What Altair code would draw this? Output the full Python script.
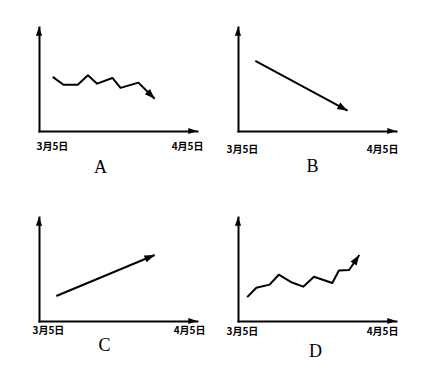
import math
import altair as alt
import pandas as pd

# ---- data -------------------------------------------------------------
tick_days = [0, 31]                      # 3月5日 .. 4月5日
tick_labels = ["3月5日", "4月5日"]
letters = ["A", "B", "C", "D"]

a_days = [2.7, 4.8, 7.6, 9.6, 11.4, 14.4, 16.0, 19.5, 22.7]
a_vals = [52, 44.5, 44.5, 53.5, 45.5, 51, 41.5, 46.5, 31]

b_days = [3.4, 21.5]
b_vals = [67.5, 19.5]

c_days = [3.4, 22.7]
c_vals = [24, 63.5]

d_days = [1.8, 3.6, 6.2, 8.0, 10.6, 12.8, 14.9, 18.5, 19.8, 21.8, 23.8]
d_vals = [23, 32, 35, 44.5, 37, 33, 42.5, 36.5, 48.5, 49, 63.5]

y_max = 100

# ---- style ------------------------------------------------------------
W, H = 158, 104
ARROW = "M0,0 L-0.36,1 L0.36,1 Z"
LABEL_FONT = "Noto Sans CJK SC"
TITLE_FONT = "Liberation Serif"

styles = {
    "A": dict(first=-3, last=6, pad=10, tx=61, ty=41),
    "B": dict(first=-12, last=2, pad=13, tx=74, ty=40),
    "C": dict(first=-7, last=8, pad=4, tx=65, ty=29),
    "D": dict(first=-12, last=2, pad=5, tx=77, ty=35),
}

label_expr = (f"datum.value == {tick_days[0]} ? '{tick_labels[0]}' : "
              f"'{tick_labels[1]}'")


def panel(days, vals, letter):
    s = styles[letter]
    df = pd.DataFrame({"day": days, "value": vals, "order": range(len(days))})

    # direction of the last segment in pixels -> arrowhead angle
    dx = (days[-1] - days[-2]) * W / (tick_days[1] - tick_days[0])
    dy = (vals[-1] - vals[-2]) * H / y_max
    ang = math.degrees(math.atan2(dx, dy)) % 360
    head = pd.DataFrame({"day": [days[-1]], "value": [vals[-1]], "angle": [ang]})

    axes_heads = pd.DataFrame({
        "day": [tick_days[1], tick_days[0]],
        "value": [0, y_max],
        "angle": [90, 0],
    })

    x_axis = alt.Axis(
        values=tick_days, labelExpr=label_expr, ticks=False, grid=False,
        domainColor="black", domainWidth=2, domainCap="square",
        labelFlush=True,
        labelOffset={"condition": {"test": f"datum.value == {tick_days[0]}",
                                   "value": s["first"]},
                     "value": s["last"]},
        labelPadding=s["pad"], labelFont=LABEL_FONT, labelFontSize=10,
        labelFontWeight="bold", labelColor="black",
        title=letter, titleX=s["tx"], titleY=s["ty"], titleAlign="center",
        titleBaseline="alphabetic", titleFont=TITLE_FONT, titleFontSize=18,
        titleFontWeight="normal", titleColor="black",
    )
    y_axis = alt.Axis(
        ticks=False, labels=False, grid=False, domainColor="black",
        domainWidth=2, domainCap="square", title=None,
    )
    x = alt.X("day:Q", scale=alt.Scale(domain=tick_days, nice=False, zero=False),
              axis=x_axis)
    y = alt.Y("value:Q", scale=alt.Scale(domain=[0, y_max], nice=False),
              axis=y_axis)

    line = alt.Chart(df).mark_line(
        color="black", strokeWidth=2, strokeJoin="round"
    ).encode(x=x, y=y, order="order:Q")

    tip = alt.Chart(head).mark_point(
        shape=ARROW, filled=True, color="black", opacity=1, size=420,
        strokeWidth=0,
    ).encode(x=x, y=y, angle=alt.Angle("angle:Q", scale=None))

    ax_tips = alt.Chart(axes_heads).mark_point(
        shape=ARROW, filled=True, color="black", opacity=1, size=300,
        strokeWidth=0,
    ).encode(x=x, y=y, angle=alt.Angle("angle:Q", scale=None))

    return alt.layer(line, tip, ax_tips).properties(width=W, height=H)


chart = alt.concat(
    panel(a_days, a_vals, "A"),
    panel(b_days, b_vals, "B"),
    panel(c_days, c_vals, "C"),
    panel(d_days, d_vals, "D"),
    columns=2,
    spacing={"row": 86, "column": 41},
    bounds="flush",
).properties(
    padding={"left": 24, "top": 19, "right": 5, "bottom": 5},
    background="white",
).configure_view(stroke=None)

chart.save("out.html", embed_options={"renderer": "svg", "actions": False})
